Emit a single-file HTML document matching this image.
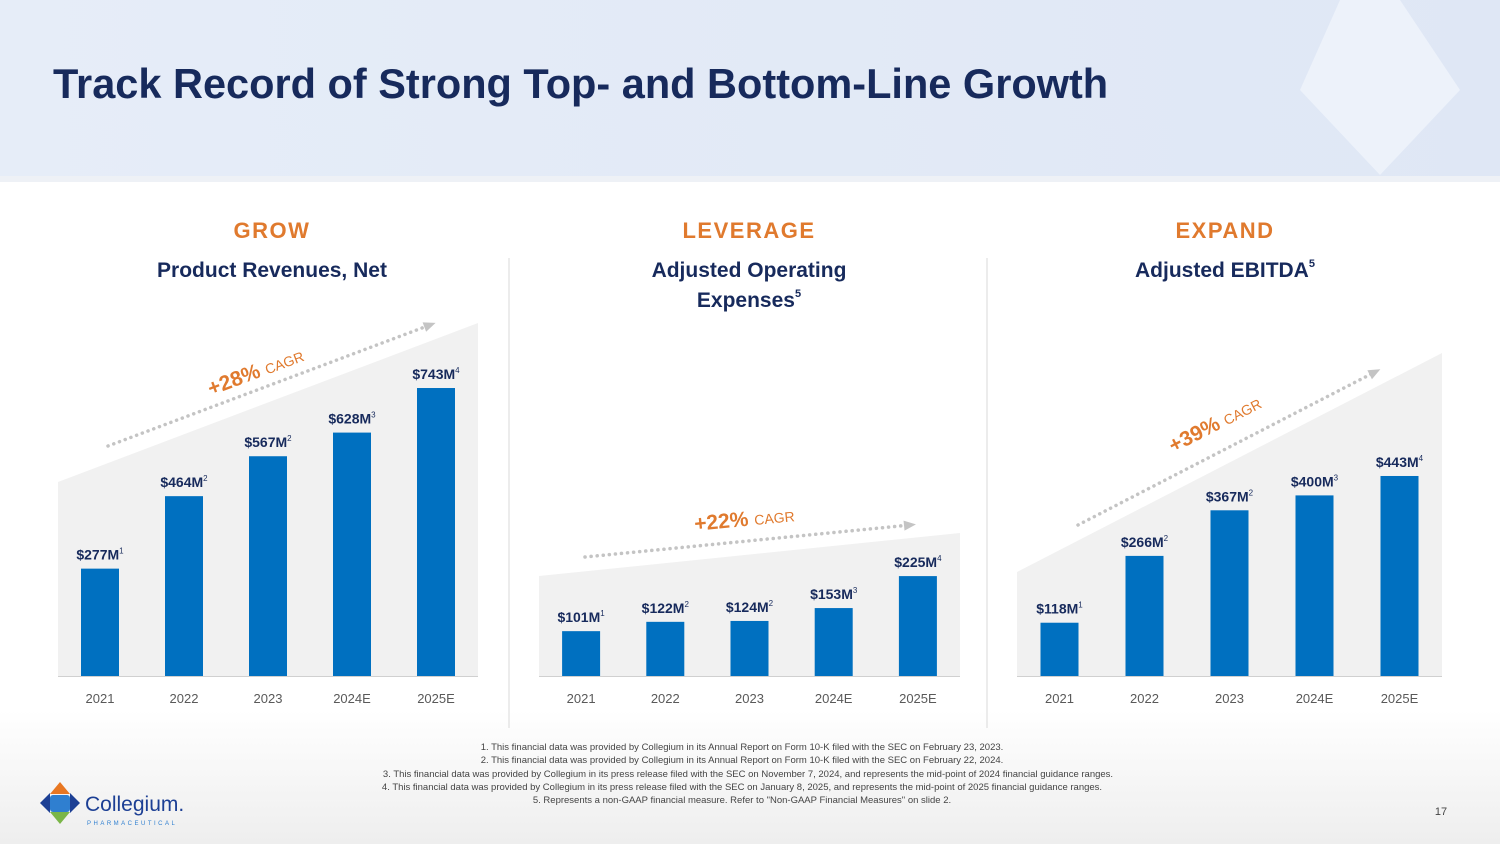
<!DOCTYPE html>
<html><head><meta charset="utf-8"><style>
body{margin:0;width:1500px;height:844px;overflow:hidden;background:#fff;font-family:"Liberation Sans",sans-serif}
</style></head><body>
<svg width="1500" height="844" viewBox="0 0 1500 844" xmlns="http://www.w3.org/2000/svg">
<defs>
<linearGradient id="hdr" x1="0" x2="1" y1="0" y2="0"><stop offset="0" stop-color="#e6edf8"/><stop offset="1" stop-color="#dfe7f5"/></linearGradient>
<linearGradient id="ftr" x1="0" x2="0" y1="0" y2="1"><stop offset="0" stop-color="#ffffff"/><stop offset="1" stop-color="#eeeeee"/></linearGradient>
</defs>
<rect x="0" y="0" width="1500" height="176" fill="url(#hdr)"/>
<rect x="0" y="176" width="1500" height="6" fill="#eef1f6"/>
<path d="M1340 0 L1400 0 L1460 90 L1380 175 L1300 90 Z" fill="#edf2fa"/>
<text x="53" y="98" font-size="41.5" font-weight="bold" fill="#172a5c">Track Record of Strong Top- and Bottom-Line Growth</text>
<rect x="0" y="710" width="1500" height="134" fill="url(#ftr)"/>
<line x1="509" y1="258" x2="509" y2="728" stroke="#d9d9d9"/>
<line x1="987" y1="258" x2="987" y2="728" stroke="#d9d9d9"/>
<g id="charts"></g>
<g font-size="9.5" fill="#444" text-anchor="middle" font-family="Liberation Sans Narrow, Liberation Sans, sans-serif">
<text x="742" y="750">1.  This financial data was provided by Collegium in its Annual Report on Form 10-K filed with the SEC on February 23, 2023.</text>
<text x="742" y="763">2.  This financial data was provided by Collegium in its Annual Report on Form 10-K filed with the SEC on February 22, 2024.</text>
<text x="748" y="777">3.  This financial data was provided by Collegium in its press release filed with the SEC on November 7, 2024, and represents the mid-point of 2024 financial guidance ranges.</text>
<text x="742" y="790">4.  This financial data was provided by Collegium in its press release filed with the SEC on January 8, 2025, and represents the mid-point of 2025 financial guidance ranges.</text>
<text x="742" y="803">5.  Represents a non-GAAP financial measure. Refer to "Non-GAAP Financial Measures" on slide 2.</text>
</g>
<text x="1441" y="815" font-size="11" fill="#444" text-anchor="middle">17</text>
<g>
<path d="M60 782 L70 794 L50 794 Z" fill="#e87722"/>
<path d="M60 824 L70 812 L50 812 Z" fill="#7ab648"/>
<path d="M40 803 L50 793 L50 813 Z" fill="#1c3f94"/>
<rect x="50" y="795" width="20" height="17" rx="3" fill="#2f7fd0"/>
<path d="M80 803 L70 793 L70 813 Z" fill="#1c3f94"/>
<text x="85" y="811" font-size="21" fill="#1c3f94">Collegium.</text>
<text x="87" y="825" font-size="6" letter-spacing="2.5" fill="#2f7fd0">PHARMACEUTICAL</text>
</g>
</svg>
<script>
const categories = ["2021","2022","2023","2024E","2025E"];
const revenueValues = [277,464,567,628,743];
const revenueNotes = ["1","2","2","3","4"];
const opexValues = [101,122,124,153,225];
const opexNotes = ["1","2","2","3","4"];
const ebitdaValues = [118,266,367,400,443];
const ebitdaNotes = ["1","2","2","3","4"];

const NS="http://www.w3.org/2000/svg";
const root=document.getElementById('charts');
function mk(tag,attrs,parent){const e=document.createElementNS(NS,tag);for(const k in attrs)e.setAttribute(k,attrs[k]);(parent||root).appendChild(e);return e;}

const panels=[
 {key:'revenue',head:'GROW',title:['Product Revenues, Net'],sup:'',cx:272,x0:58,x1:478,tl:482,tr:323,scale:0.3876,vals:revenueValues,notes:revenueNotes,
  cagr:'+28%',arrow:[108,446,430,325],lab:[258,378]},
 {key:'opex',head:'LEVERAGE',title:['Adjusted Operating','Expenses'],sup:'5',cx:749,x0:539,x1:960,tl:576,tr:533,scale:0.444,vals:opexValues,notes:opexNotes,
  cagr:'+22%',arrow:[585,557,910,525],lab:[745,526]},
 {key:'ebitda',head:'EXPAND',title:['Adjusted EBITDA'],sup:'5',cx:1225,x0:1017,x1:1442,tl:572,tr:353,scale:0.4515,vals:ebitdaValues,notes:ebitdaNotes,
  cagr:'+39%',arrow:[1078,525,1375,372],lab:[1218,430]}
];
const base=676;
panels.forEach(p=>{
 const g=mk('g',{});
 
 
 const h=mk('text',{x:p.cx,y:238,'font-size':22,'font-weight':'bold','letter-spacing':'1.5',fill:'#e07a2e','text-anchor':'middle'},g);
 h.textContent=p.head;
 
 
 p.title.forEach((t,i)=>{
  const tt=mk('text',{x:p.cx,y:277+i*30,'font-size':21,'font-weight':'bold',fill:'#172a5c','text-anchor':'middle'},g);
  tt.textContent=t;
  if(p.sup && i===p.title.length-1){const s=mk('tspan',{'font-size':11,dy:-10},tt);s.textContent=p.sup;}
  
  
 });
 const bg=mk('path',{d:`M${p.x0} ${p.tl} L${p.x1} ${p.tr} L${p.x1} ${base} L${p.x0} ${base} Z`,fill:'#f1f1f1'},g);
 
 
 const ax=mk('line',{x1:p.x0,x2:p.x1,y1:base+0.5,y2:base+0.5,stroke:'#d0d0d0'},g);
 
 
 const step=(p.x1-p.x0)/categories.length;
 const a=p.arrow;
 const ln=mk('line',{x1:a[0],y1:a[1],x2:a[2],y2:a[3],stroke:'#c4c4c4','stroke-width':3.5,'stroke-dasharray':'0.1 6','stroke-linecap':'round'},g);
 
 
 const ang=Math.atan2(a[3]-a[1],a[2]-a[0]);
 const hx=a[2],hy=a[3];
 const pts=[[hx+6*Math.cos(ang),hy+6*Math.sin(ang)],[hx-6*Math.cos(ang)+5*Math.sin(ang),hy-6*Math.sin(ang)-5*Math.cos(ang)],[hx-6*Math.cos(ang)-5*Math.sin(ang),hy-6*Math.sin(ang)+5*Math.cos(ang)]];
 const ah=mk('polygon',{points:pts.map(q=>q.join(',')).join(' '),fill:'#c4c4c4'},g);
 
 
 const deg=ang*180/Math.PI;
 const cl=mk('text',{x:p.lab[0],y:p.lab[1],'text-anchor':'middle',fill:'#e07a2e',transform:`rotate(${deg} ${p.lab[0]} ${p.lab[1]})`},g);
 const t1=mk('tspan',{'font-size':21,'font-weight':'bold'},cl);t1.textContent=p.cagr+' ';
 const t2=mk('tspan',{'font-size':14},cl);t2.textContent='CAGR';
 
 
 categories.forEach((c,i)=>{
  const cx=p.x0+step*(i+0.5);
  const hgt=p.vals[i]*p.scale;
  const r=mk('rect',{x:cx-19,y:base-hgt,width:38,height:hgt,fill:'#0070c0'},g);
  
  
  const v=mk('text',{x:cx,y:base-hgt-9,'font-size':14,'font-weight':'bold',fill:'#172a5c','text-anchor':'middle'},g);
  v.textContent='$'+p.vals[i]+'M';
  const s=mk('tspan',{'font-size':8,dy:-6,'font-weight':'normal'},v);s.textContent=p.notes[i];
  
  
  const xl=mk('text',{x:cx,y:703,'font-size':13,fill:'#595959','text-anchor':'middle'},g);
  xl.textContent=c;
  
  
 });
});
</script>
</body></html>
